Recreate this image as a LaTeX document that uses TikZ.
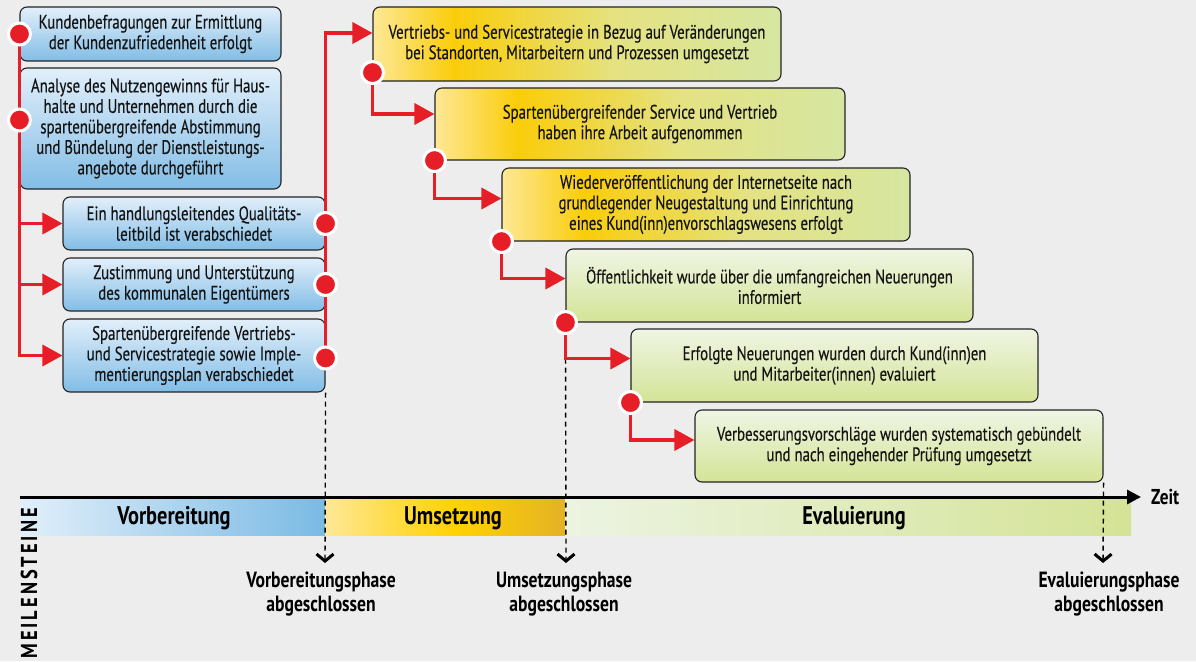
\documentclass[tikz,border=0pt]{standalone}
\usepackage{fontspec}
\setmainfont{PT Sans}[FakeStretch=0.8]
\usetikzlibrary{arrows.meta,calc}
\definecolor{bg}{RGB}{237,237,237}
\definecolor{redc}{RGB}{230,30,40}
\definecolor{txt}{RGB}{20,20,20}
\definecolor{edge}{RGB}{35,35,35}
\definecolor{bltop}{RGB}{226,239,250}
\definecolor{blbot}{RGB}{130,189,230}
\definecolor{gtop}{RGB}{239,245,228}
\definecolor{gbot}{RGB}{212,228,150}
\definecolor{ypale}{RGB}{253,232,150}
\definecolor{ygold}{RGB}{250,205,10}
\definecolor{ymid}{RGB}{228,226,130}
\definecolor{ygreen}{RGB}{214,230,162}
\definecolor{vb1}{RGB}{226,239,250}
\definecolor{vb2}{RGB}{122,186,228}
\definecolor{ub1}{RGB}{254,232,150}
\definecolor{ub2}{RGB}{255,210,0}
\definecolor{ub3}{RGB}{228,178,38}
\definecolor{eb1}{RGB}{236,244,226}
\definecolor{eb2}{RGB}{212,227,150}
\pgfdeclarehorizontalshading{yboxsh}{100bp}{color(0bp)=(ypale); color(25bp)=(ypale); color(35bp)=(ygold); color(55bp)=(ymid); color(75bp)=(ygreen); color(100bp)=(ygreen)}
\pgfdeclarehorizontalshading{vorbsh}{100bp}{color(0bp)=(vb1); color(25bp)=(vb1); color(75bp)=(vb2); color(100bp)=(vb2)}
\pgfdeclarehorizontalshading{umssh}{100bp}{color(0bp)=(ub1); color(25bp)=(ub1); color(52bp)=(ub2); color(75bp)=(ub3); color(100bp)=(ub3)}
\pgfdeclarehorizontalshading{evsh}{100bp}{color(0bp)=(eb1); color(25bp)=(eb1); color(75bp)=(eb2); color(100bp)=(eb2)}
\begin{document}
\begin{tikzpicture}[x=1pt,y=-1pt,
  boxtext/.style={font=\fontsize{19.5}{20.5}\selectfont\addfontfeature{FakeStretch=0.76,FakeBold=0.3}, align=center, text=txt},
  bluebox/.style={boxtext, draw=edge, line width=1.1pt, rounded corners=7pt, top color=bltop, bottom color=blbot, inner sep=0pt},
  ybox/.style={boxtext, draw=edge, line width=1.1pt, rounded corners=7pt, shading=yboxsh, inner sep=0pt},
  gbox/.style={boxtext, draw=edge, line width=1.1pt, rounded corners=7pt, top color=gtop, bottom color=gbot, inner sep=0pt},
  dot/.style={circle, fill=redc, draw=white, line width=3pt, minimum size=22pt, inner sep=0pt},
  redline/.style={draw=redc, line width=3.5pt},
  redarrow/.style={redline, -{Triangle[length=20pt,width=21pt]}},
  msline/.style={draw=black, line width=1.4pt, dash pattern=on 5pt off 4pt, -{Straight Barb[length=7pt,width=17pt,line width=3pt]}},
  bar/.style={inner sep=0pt, minimum height=37pt},
  phase/.style={font=\fontsize{25.5}{27}\selectfont\bfseries, text=black, anchor=base},
  msl/.style={font=\fontsize{22}{24}\selectfont\bfseries, text=black, align=center}
]
\fill[bg] (0,0) rectangle (1196,661);
\useasboundingbox (0,0) rectangle (1196,661);

% phase bars
\node[bar, shading=vorbsh, minimum width=305pt] (bar1) at (172.5,516.5) {};
\node[bar, shading=umssh, minimum width=240pt] (bar2) at (445,516.5) {};
\node[bar, shading=evsh, minimum width=566pt] (bar3) at (848,516.5) {};
\node[phase] (ph1) at (174,524) {Vorbereitung};
\node[phase] (ph2) at (453,524) {Umsetzung};
\node[phase] (ph3) at (854,524) {Evaluierung};

% axis
\coordinate (a0) at (20,497);
\coordinate (a1) at (1141,497);
\draw[line width=3pt, -{Triangle[length=14pt,width=14pt]}] (a0) -- (a1);
\node[font=\fontsize{21.5}{24}\selectfont\bfseries, anchor=base west, inner sep=0pt] (zeit) at (1151,504) {Zeit};
\node[font=\fontsize{23}{25}\selectfont\bfseries\addfontfeature{LetterSpace=13}, rotate=90, anchor=base east, inner sep=0pt] (mst) at (37,508) {MEILENSTEINE};

% boxes
\node[bluebox, minimum width=261pt, minimum height=54pt] (b1) at (150.5,34) {Kundenbefragungen zur Ermittlung\\der Kundenzufriedenheit erfolgt};
\node[bluebox, minimum width=261pt, minimum height=121pt] (b2) at (150.5,128.5) {Analyse des Nutzengewinns für Haus-\\halte und Unternehmen durch die\\spartenübergreifende Abstimmung\\und Bündelung der Dienstleistungs-\\angebote durchgeführt};
\node[bluebox, minimum width=262pt, minimum height=53pt] (b3) at (194,223.5) {Ein handlungsleitendes Qualitäts-\\leitbild ist verabschiedet};
\node[bluebox, minimum width=262pt, minimum height=53pt] (b4) at (194,284.5) {Zustimmung und Unterstützung\\des kommunalen Eigentümers};
\node[bluebox, minimum width=262pt, minimum height=73pt] (b5) at (194,355.5) {Spartenübergreifende Vertriebs-\\und Servicestrategie sowie Imple-\\mentierungsplan verabschiedet};

\node[ybox, minimum width=408pt, minimum height=74pt] (y1) at (577,44) {Vertriebs- und Servicestrategie in Bezug auf Veränderungen\\bei Standorten, Mitarbeitern und Prozessen umgesetzt};
\node[ybox, minimum width=410pt, minimum height=72pt] (y2) at (640,124) {Spartenübergreifender Service und Vertrieb\\haben ihre Arbeit aufgenommen};
\node[ybox, minimum width=408pt, minimum height=73pt] (y3) at (706,204.5) {Wiederveröffentlichung der Internetseite nach\\grundlegender Neugestaltung und Einrichtung\\eines Kund(inn)envorschlagswesens erfolgt};
\node[gbox, minimum width=407pt, minimum height=73pt] (y4) at (769.5,285.5) {Öffentlichkeit wurde über die umfangreichen Neuerungen\\informiert};
\node[gbox, minimum width=407pt, minimum height=73pt] (y5) at (834.5,365.5) {Erfolgte Neuerungen wurden durch Kund(inn)en\\und Mitarbeiter(innen) evaluiert};
\node[gbox, minimum width=408pt, minimum height=72pt] (y6) at (899,446) {Verbesserungsvorschläge wurden systematisch gebündelt\\und nach eingehender Prüfung umgesetzt};

% dot positions
\coordinate (p1) at (b1.west);
\coordinate (p2) at ([yshift=8.5pt]b2.west);
\coordinate (p3) at (b3.east);
\coordinate (p4) at (b4.east);
\coordinate (p5) at ([yshift=-2.5pt]b5.east);
\coordinate (q1) at ([yshift=9pt]y1.south west);
\coordinate (q2) at (y2.south west);
\coordinate (q3) at (y3.south west);
\coordinate (q4) at (y4.south west);
\coordinate (q5) at (y5.south west);

% milestone dashed lines
\coordinate (m1) at (325,563);
\coordinate (m2) at (566,563);
\coordinate (m3) at (1103,563);
\draw[msline] (b5.south east) -- (m1);
\draw[msline] (q4) -- (m2);
\draw[msline] (y6.south east) -- (m3);
\node[msl] (l1) at (321,594) {Vorbereitungsphase\\abgeschlossen};
\node[msl] (l2) at (564,594) {Umsetzungsphase\\abgeschlossen};
\node[msl] (l3) at (1109,594) {Evaluierungsphase\\abgeschlossen};

% red connectors
\draw[redarrow] (p1) |- (b5.west);
\draw[redarrow] (p1 |- b3.west) -- (b3.west);
\draw[redarrow] (p1 |- b4.west) -- (b4.west);
\draw[redarrow] (p5) |- ([yshift=11pt]y1.west);
\draw[redarrow] (q1) |- ([yshift=10pt]y2.west);
\draw[redarrow] (q2) |- ([yshift=6pt]y3.west);
\draw[redarrow] (q3) |- ([yshift=7pt]y4.west);
\draw[redarrow] (q4) |- ([yshift=7pt]y5.west);
\draw[redarrow] (q5) |- ([yshift=6pt]y6.west);

% dots
\foreach \c in {p1,p2,p3,p4,p5,q1,q2,q3,q4,q5}
  \node[dot] (dot-\c) at (\c) {};
\end{tikzpicture}
\end{document}
